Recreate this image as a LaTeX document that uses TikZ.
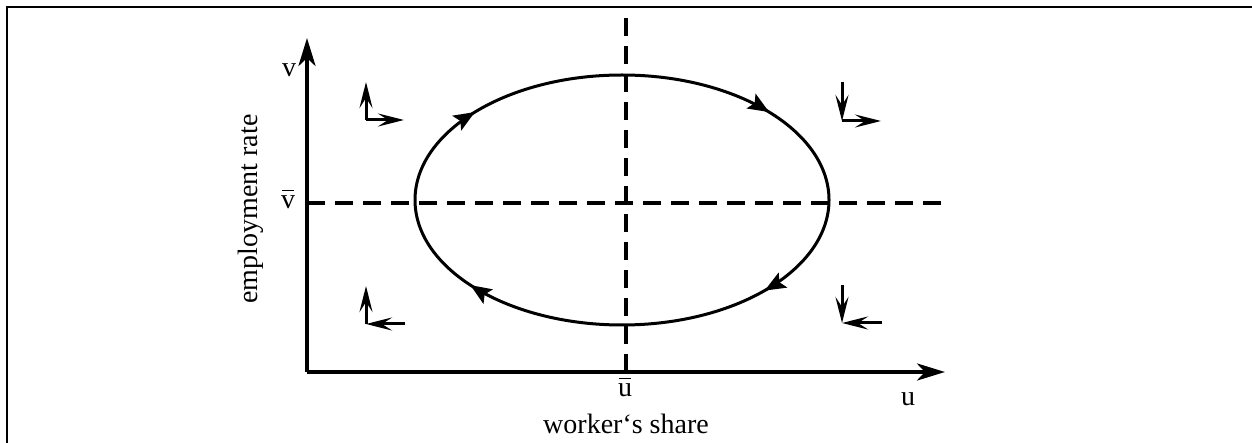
\documentclass[tikz,border=0pt]{standalone}
\usepackage{fontspec}
\setmainfont{Liberation Serif}
\usetikzlibrary{arrows.meta, decorations.markings}

\newcommand{\barred}[1]{\ooalign{#1\cr\hidewidth\raisebox{0.62em}{\rule{0.42em}{0.05em}}\hidewidth\cr}}

\begin{document}
\begin{tikzpicture}[
  x=1pt, y=-1pt,
  lbl/.style={inner sep=0pt, font=\fontsize{28}{32}\selectfont},
  frame/.style={line width=2pt},
  axis/.style={line width=4pt, -{Stealth[length=28pt, width=17pt, inset=8pt]}},
  guide/.style={line width=4pt, dash pattern=on 18pt off 10pt},
  dirarr/.style={line width=3pt, -{Stealth[length=26pt, width=13pt, inset=10pt]}},
  orbtip/.tip={Stealth[length=21pt, width=17pt, inset=4pt]},
  cycle/.style={line width=3pt, postaction={decorate},
    decoration={markings,
      mark=at position 0.11 with {\arrow{orbtip}},
      mark=at position 0.40 with {\arrow{orbtip}},
      mark=at position 0.605 with {\arrow{orbtip}},
      mark=at position 0.895 with {\arrow{orbtip}}}}
]
  \useasboundingbox (0,0) rectangle (1252,443);

  % frame (top and left edges only)
  \coordinate (FBL) at (7,443);
  \coordinate (FTL) at (7,7);
  \coordinate (FTR) at (1252,7);
  \draw[frame] (FBL) -- (FTL) -- (FTR);

  % axes
  \coordinate (O)    at (307,372);
  \coordinate (Ytip) at (307,38);
  \coordinate (Xtip) at (945,372);
  \draw[axis] (O) -- (Ytip);
  \draw[axis] (O) -- (Xtip);

  % equilibrium lines
  \coordinate (Utop) at (626,18);
  \coordinate (Ubot) at (626,372);
  \coordinate (Vl)   at (307,203);
  \coordinate (Vr)   at (942,203);
  \draw[guide] (Utop) -- (Ubot);
  \draw[guide] (Vl) -- (Vr);

  % closed orbit
  \coordinate (E) at (622,200);
  \draw[cycle] (E) ellipse (207 and 125);

  % labels
  \node[lbl] (vlab)    at (289,70)  {v};
  \node[lbl] (vbarlab) at (288,202) {\barred{v}};
  \node[lbl] (ubarlab) at (625,390) {\barred{u}};
  \node[lbl] (ulab)    at (908,399) {u};
  \node[lbl] (xtitle)  at (626,424) {worker`s share};
  \node[lbl, rotate=90] (ytitle) at (251,209) {employment rate};

  % direction of motion in each quadrant
  \coordinate (TLc) at (366,120);
  \coordinate (TLu) at (366,82);
  \coordinate (TLr) at (404,120);
  \draw[dirarr] (TLc) -- (TLu);
  \draw[dirarr] (TLc) -- (TLr);

  \coordinate (TRc) at (842,121);
  \coordinate (TRu) at (842,82);
  \coordinate (TRr) at (881,121);
  \draw[dirarr] (TRu) -- (TRc);
  \draw[dirarr] (TRc) -- (TRr);

  \coordinate (BRc) at (842,323);
  \coordinate (BRu) at (842,285);
  \coordinate (BRr) at (882,323);
  \draw[dirarr] (BRu) -- (BRc);
  \draw[dirarr] (BRr) -- (BRc);

  \coordinate (BLc) at (366,324);
  \coordinate (BLu) at (366,286);
  \coordinate (BLr) at (405,324);
  \draw[dirarr] (BLc) -- (BLu);
  \draw[dirarr] (BLr) -- (BLc);
\end{tikzpicture}
\end{document}
